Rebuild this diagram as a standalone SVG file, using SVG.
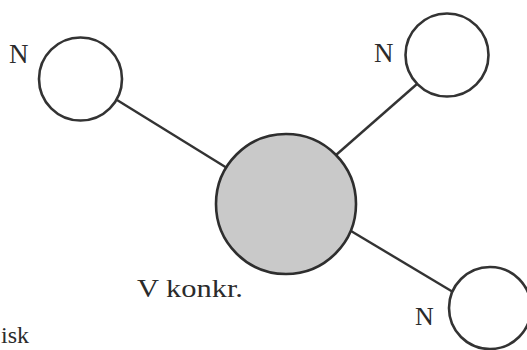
<svg xmlns="http://www.w3.org/2000/svg" width="527" height="350" viewBox="0 0 527 350">
  <style>
    .atom { fill: #ffffff; stroke: #333333; stroke-width: 2.6; }
    .core { fill: #c9c9c9; stroke: #2e2e2e; stroke-width: 2.6; }
    .bond { stroke: #333333; stroke-width: 2.4; fill: none; }
    .lbl { font-family: "Liberation Serif", "Times New Roman", serif; fill: #2b2b2b; }
  </style>
  <rect width="527" height="350" fill="#ffffff"/>

  <!-- bonds from the centre to each ligand -->
  <g id="connectors">
    <line class="bond" x1="117" y1="100" x2="227" y2="168"/>
    <line class="bond" x1="417" y1="84" x2="336" y2="155"/>
    <line class="bond" x1="351" y1="231" x2="453" y2="292"/>
  </g>

  <g id="node-center">
    <circle class="core" cx="286" cy="204" r="70"/>
    <text class="lbl" x="137" y="297" font-size="25" textLength="106" lengthAdjust="spacingAndGlyphs">V konkr.</text>
  </g>

  <g id="node-n1">
    <circle class="atom" cx="80.5" cy="79" r="41.5"/>
    <text class="lbl" x="9" y="63" font-size="27">N</text>
  </g>

  <g id="node-n2">
    <circle class="atom" cx="447" cy="55" r="41.5"/>
    <text class="lbl" x="374" y="62" font-size="27">N</text>
  </g>

  <g id="node-n3">
    <circle class="atom" cx="490" cy="308" r="41"/>
    <text class="lbl" x="415" y="325" font-size="26">N</text>
  </g>

  <text class="lbl" x="1" y="343" font-size="24">isk</text>
</svg>
